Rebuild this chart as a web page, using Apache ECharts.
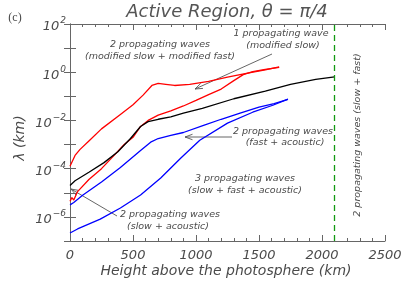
<!DOCTYPE html>
<html><head><meta charset="utf-8">
<script src="https://cdn.jsdelivr.net/npm/echarts@6/dist/echarts.min.js"></script>
<style>html,body{margin:0;padding:0;background:#fff}#c{width:407px;height:291px}</style>
</head><body><div id="c"></div>
<script>
// ---- data (height in km, wavelength lambda in km) ----
const xTickValues = [0, 500, 1000, 1500, 2000, 2500];
const cutoffHeight = 2100;

const redUpperH = [0, 40, 80, 150, 250, 400, 500, 580, 650, 700, 760, 830, 950, 1100, 1250, 1400, 1550, 1660];
const redUpperV = [1.26e-4, 3.55e-4, 6.31e-4, 1.41e-3, 4.47e-3, 1.78e-2, 4.47e-2, 0.112, 0.282, 0.347, 0.316, 0.282, 0.316, 0.417, 0.631, 0.891, 1.26, 1.66];

const redLowerH = [0, 15, 30, 60, 150, 250, 350, 430, 500, 560, 620, 700, 800, 900, 1000, 1100, 1200, 1300, 1375, 1450, 1550, 1660];
const redLowerV = [4.47e-6, 6.31e-6, 5.01e-6, 1.12e-5, 3.55e-5, 1.0e-4, 3.55e-4, 1.0e-3, 2.0e-3, 5.62e-3, 1.0e-2, 1.66e-2, 2.51e-2, 3.98e-2, 6.76e-2, 0.117, 0.2, 0.447, 0.794, 1.05, 1.32, 1.58];

const blackH = [0, 40, 150, 270, 380, 480, 560, 620, 700, 800, 900, 1050, 1300, 1550, 1750, 1950, 2100];
const blackV = [2.0e-5, 3.16e-5, 7.08e-5, 1.78e-4, 5.01e-4, 1.78e-3, 5.62e-3, 8.91e-3, 1.12e-2, 1.41e-2, 2.0e-2, 3.16e-2, 7.94e-2, 0.166, 0.316, 0.5, 0.646];

const blueUpperH = [0, 30, 100, 250, 400, 560, 640, 700, 800, 900, 1060, 1200, 1350, 1500, 1620, 1730];
const blueUpperV = [3.16e-6, 3.98e-6, 7.94e-6, 2.82e-5, 1.12e-4, 5.62e-4, 1.26e-3, 1.78e-3, 2.4e-3, 3.16e-3, 6.31e-3, 1.12e-2, 2.0e-2, 3.55e-2, 5.01e-2, 7.41e-2];

const blueLowerH = [0, 60, 240, 400, 560, 720, 880, 1030, 1250, 1450, 1610, 1730];
const blueLowerV = [2.14e-7, 3.16e-7, 8.13e-7, 2.34e-6, 8.13e-6, 4.07e-5, 2.75e-4, 1.51e-3, 7.76e-3, 2.19e-2, 4.27e-2, 7.59e-2];

// ---- chart ----
const FONT = 'DejaVu Sans';
const TXT = '#4a4a4a';
const AX = '#666';
const pairs = (h, v) => h.map((x, i) => [x, v[i]]);

function lineSeries(name, h, v, color) {
  return {
    name, type: 'line', data: pairs(h, v), showSymbol: false, symbol: 'none',
    lineStyle: { color, width: 1.3 }, itemStyle: { color }, animation: false, z: 3
  };
}

const chart = echarts.init(document.getElementById('c'), null, { renderer: 'canvas' });

function supLabel(v) {
  const e = Math.round(Math.log10(v));
  if (e % 2 !== 0) return '';
  const s = e < 0 ? '\u2212' + (-e) : String(e);
  return '{b|10}{s|' + s + '}';
}

const xCommon = {
  type: 'value', min: xTickValues[0], max: xTickValues[xTickValues.length - 1], interval: 500,
  axisLine: { show: true, lineStyle: { color: AX, width: 1 } },
  axisTick: { show: true, inside: true, length: 6, lineStyle: { color: AX } },
  minorTick: { show: true, splitNumber: 5, length: 3, lineStyle: { color: AX } },
  splitLine: { show: false }
};
const yCommon = {
  type: 'log', logBase: 10, min: 1e-7, max: 100, splitNumber: 9,
  axisLine: { show: true, lineStyle: { color: AX, width: 1 } },
  axisTick: { show: true, inside: true, length: 6, lineStyle: { color: AX } },
  splitLine: { show: false }
};

function arrow(x1, y1, x2, y2) {
  const dx = x2 - x1, dy = y2 - y1, L = Math.hypot(dx, dy);
  const ux = dx / L, uy = dy / L, hl = 8, a = 0.35;
  const ca = Math.cos(a), sa = Math.sin(a);
  const b1 = [x2 - hl * (ux * ca - uy * sa), y2 - hl * (uy * ca + ux * sa)];
  const b2 = [x2 - hl * (ux * ca + uy * sa), y2 - hl * (uy * ca - ux * sa)];
  const st = { stroke: '#555', lineWidth: 0.9, fill: null };
  return [
    { type: 'line', shape: { x1, y1, x2, y2 }, style: st, silent: true },
    { type: 'polyline', shape: { points: [b1, [x2, y2], b2] }, style: st, silent: true }
  ];
}

function label(text, x, y, size, extra) {
  return Object.assign({
    type: 'text', x, y, silent: true,
    style: { text, font: 'italic ' + size + 'px "' + FONT + '"', fill: TXT, align: 'center', verticalAlign: 'middle' }
  }, extra || {});
}

const option = {
  animation: false,
  backgroundColor: '#fff',
  grid: { left: 70, right: 22, top: 24, bottom: 50, containLabel: false },
  xAxis: [
    Object.assign({}, xCommon, {
      position: 'bottom',
      axisLabel: { show: true, margin: 8, fontFamily: FONT, fontStyle: 'italic', fontSize: 13, color: TXT, formatter: v => String(v) }
    }),
    Object.assign({}, xCommon, { position: 'top', axisLabel: { show: false } })
  ],
  yAxis: [
    Object.assign({}, yCommon, {
      position: 'left',
      axisLabel: {
        show: true, margin: 4, formatter: supLabel,
        rich: {
          b: { fontFamily: FONT, fontStyle: 'italic', fontSize: 13, color: TXT, padding: [6, 0, 0, 0] },
          s: { fontFamily: FONT, fontStyle: 'italic', fontSize: 9, color: TXT, verticalAlign: 'top', padding: [2, 0, 0, 1] }
        }
      }
    }),
    Object.assign({}, yCommon, { position: 'right', axisLabel: { show: false } })
  ],
  series: [
    lineSeries('red upper', redUpperH, redUpperV, '#ff0000'),
    lineSeries('red lower', redLowerH, redLowerV, '#ff0000'),
    lineSeries('black', blackH, blackV, '#000000'),
    lineSeries('blue upper', blueUpperH, blueUpperV, '#0000ff'),
    Object.assign(lineSeries('blue lower', blueLowerH, blueLowerV, '#0000ff'), {
      markLine: {
        silent: true, symbol: ['none', 'none'], label: { show: false },
        lineStyle: { color: '#119911', type: [6, 4], width: 1.3 },
        data: [{ xAxis: cutoffHeight }]
      }
    })
  ],
  graphic: [
    label('Active Region, \u03b8 = \u03c0/4', 227, 12, 18, { style: { text: 'Active Region, \u03b8 = \u03c0/4', font: 'italic 18px "' + FONT + '"', fill: '#555', align: 'center', verticalAlign: 'middle' } }),
    { type: 'text', x: 15, y: 18, silent: true, style: { text: '(c)', font: '12px "Liberation Serif"', fill: TXT, align: 'center', verticalAlign: 'middle' } },
    label('Height above the photosphere (km)', 226, 271, 14),
    label('\u03bb (km)', 20, 138, 14, { rotation: Math.PI / 2 }),
    label('2 propagating waves', 160, 45, 9.5),
    label('(modified slow + modified fast)', 160, 57, 9.5),
    label('1 propagating wave', 281, 34, 9.5),
    label('(modified slow)', 283, 46, 9.5),
    label('2 propagating waves', 283, 132, 9.5),
    label('(fast + acoustic)', 285, 143, 9.5),
    label('3 propagating waves', 245, 179, 9.5),
    label('(slow + fast + acoustic)', 245, 191, 9.5),
    label('2 propagating waves', 170, 215, 9.5),
    label('(slow + acoustic)', 168, 227, 9.5),
    label('2 propagating waves (slow + fast)', 358, 135, 9.5, { rotation: Math.PI / 2 })
  ].concat(arrow(272, 54, 195, 89), arrow(232, 137, 185, 137), arrow(117, 216, 71, 189))
};
chart.setOption(option);
</script></body></html>
